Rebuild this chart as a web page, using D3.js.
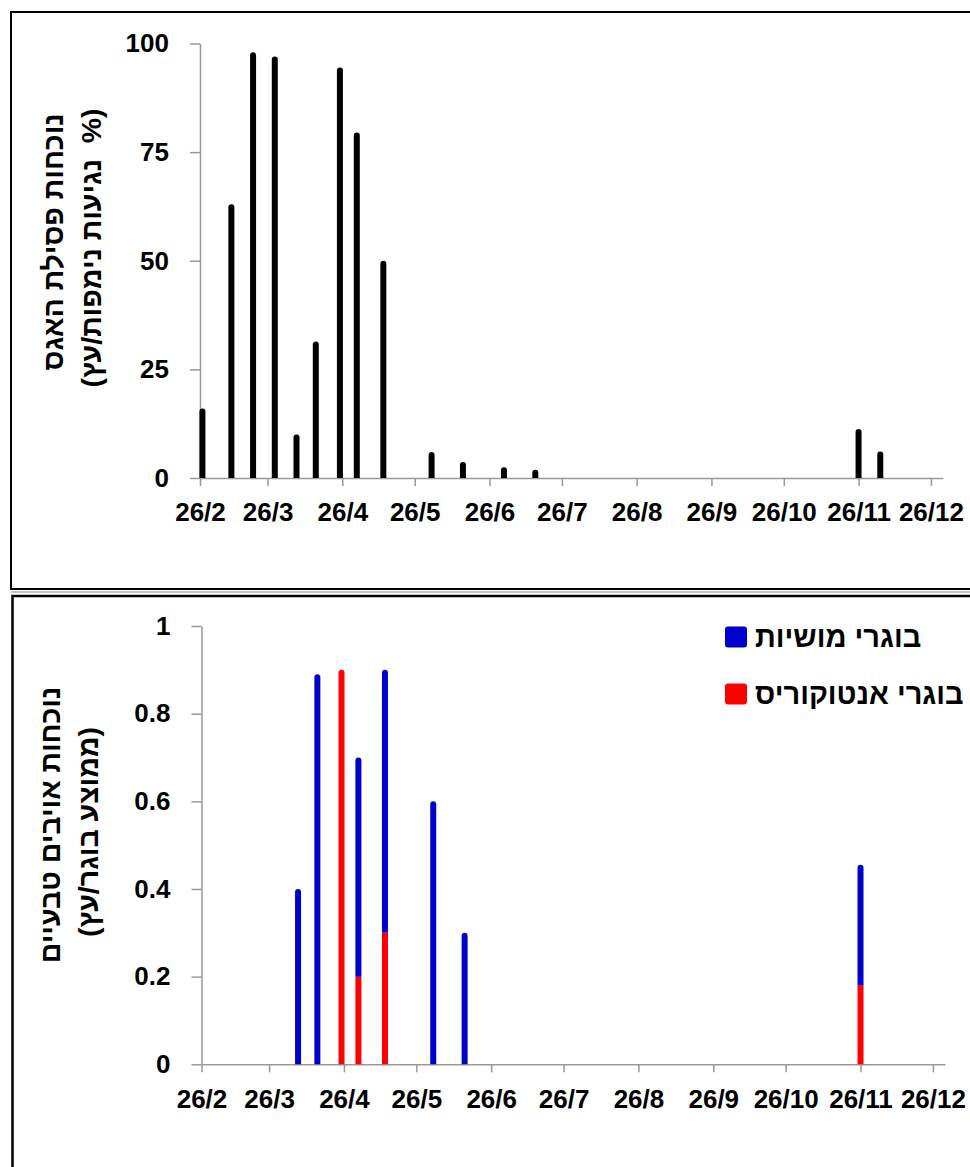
<!DOCTYPE html>
<html>
<head>
<meta charset="utf-8">
<script src="https://cdn.jsdelivr.net/npm/d3@7"></script>
<style>
  html, body { margin: 0; padding: 0; background: #fff; }
  svg { display: block; }
  text { font-family: "Liberation Sans", Arial, "DejaVu Sans", sans-serif; font-weight: bold; fill: #000; }
</style>
</head>
<body>
<svg id="chart" width="970" height="1167"></svg>
<script>
// ---------- data ----------
const monthTicks = ["2011-02-26","2011-03-26","2011-04-26","2011-05-26","2011-06-26","2011-07-26",
                    "2011-08-26","2011-09-26","2011-10-26","2011-11-26","2011-12-26"];
const axisStart = "2011-02-26";
const axisEnd = "2011-12-31";

// Top panel: pear psylla presence (% nymph infestation / tree)
const psyllaDates = ["2011-02-27","2011-03-11","2011-03-20","2011-03-29","2011-04-07","2011-04-15",
                     "2011-04-25","2011-05-02","2011-05-13","2011-06-02","2011-06-15","2011-07-02",
                     "2011-07-15","2011-11-26","2011-12-05"];
const psyllaValues = [16, 63, 98, 97, 10, 31.4, 94.5, 79.5, 50, 6, 3.7, 2.5, 1.9, 11.3, 6.1];
const psyllaTicks = [0, 25, 50, 75, 100];

// Bottom panel: natural enemies (mean adults / tree)
const enemyDates = ["2011-04-07","2011-04-15","2011-04-25","2011-05-02","2011-05-13","2011-06-02",
                    "2011-06-15","2011-11-26"];
const anthocorisValues = [0, 0, 0.9, 0.2, 0.3, 0, 0, 0.18];      // red, bottom of stack
const coccinellidValues = [0.4, 0.89, 0, 0.5, 0.6, 0.6, 0.3, 0.275]; // blue, on top
const enemyTicks = [0, 0.2, 0.4, 0.6, 0.8, 1];
const seriesNames = ["בוגרי מושיות", "בוגרי אנטוקוריס"];
const seriesColors = ["#0000cc", "#ff0000"];

const topTitle = ["נוכחות פסילת האגס", "(%  נגיעות נימפות/עץ)"];
const bottomTitle = ["נוכחות אויבים טבעיים", "(ממוצע בוגר/עץ)"];

// ---------- drawing ----------
const parse = d3.timeParse("%Y-%m-%d");
const fmt = d => `${d.getDate()}/${d.getMonth() + 1}`;
const svg = d3.select("#chart");
const axisGray = "#999";

function roundTopBar(x, y0, y1, w, rounded) {
  const p = d3.path();
  const r = rounded ? Math.min(w / 2, Math.max(0, (y0 - y1))) : 0;
  p.moveTo(x - w / 2, y0);
  p.lineTo(x - w / 2, y1 + r);
  if (r > 0) p.arc(x, y1 + r, w / 2, Math.PI, 0);
  else p.lineTo(x + w / 2, y1);
  p.lineTo(x + w / 2, y0);
  p.closePath();
  return p.toString();
}

function drawAxes(g, x, y, yTicks, yFmt) {
  const xAxis = d3.axisBottom(x).tickValues(monthTicks.map(parse)).tickFormat(fmt)
    .tickSizeInner(8).tickSizeOuter(0).tickPadding(17);
  const xg = g.append("g").attr("transform", `translate(0,${y.range()[0]})`).call(xAxis);
  xg.select(".domain").attr("stroke", axisGray).attr("stroke-width", 1.5);
  xg.selectAll(".tick line").attr("stroke", axisGray).attr("stroke-width", 1.5);
  xg.selectAll(".tick text").style("font-size", "26px").attr("fill", "#000");

  const yAxis = d3.axisLeft(y).tickValues(yTicks).tickFormat(yFmt)
    .tickSizeInner(10).tickSizeOuter(0).tickPadding(21);
  const yg = g.append("g").attr("transform", `translate(${x.range()[0]},0)`).call(yAxis);
  yg.select(".domain").attr("stroke", axisGray).attr("stroke-width", 1.5);
  yg.selectAll(".tick line").attr("stroke", axisGray).attr("stroke-width", 1.5);
  yg.selectAll(".tick text").style("font-size", "26px").attr("fill", "#000");
}

function drawTitle(lines, xs, cy, sizes) {
  lines.forEach((t, i) => {
    svg.append("text")
      .attr("transform", `translate(${xs[i]},${cy[i]}) rotate(-90)`)
      .attr("text-anchor", "middle")
      .attr("dominant-baseline", "central")
      .attr("direction", "rtl")
      .attr("xml:space", "preserve")
      .style("white-space", "pre")
      .style("font-size", sizes[i] + "px")
      .text(t);
  });
}

// panel frames
svg.append("rect").attr("x", 11).attr("y", 12).attr("width", 970).attr("height", 577)
  .attr("fill", "none").attr("stroke", "#000").attr("stroke-width", 2);
svg.append("rect").attr("x", 12.5).attr("y", 596).attr("width", 970).attr("height", 600)
  .attr("fill", "none").attr("stroke", "#000").attr("stroke-width", 2.5);
svg.append("line").attr("x1", 11).attr("x2", 970).attr("y1", 592).attr("y2", 592)
  .attr("stroke", "#888").attr("stroke-width", 1);

// ----- top chart -----
const x1 = d3.scaleTime().domain([parse(axisStart), parse(axisEnd)]).range([200, 943]);
const y1 = d3.scaleLinear().domain([0, 100]).range([478, 43.5]);
const gTop = svg.append("g");
drawAxes(gTop, x1, y1, psyllaTicks, d => d);

gTop.append("g").selectAll("path")
  .data(psyllaDates.map((d, i) => ({date: parse(d), v: psyllaValues[i]})))
  .join("path")
  .attr("fill", "#000")
  .attr("d", d => roundTopBar(x1(d.date), y1(0), y1(d.v), 6, true));

drawTitle(topTitle, [53, 91], [242, 248], [28.5, 28.5]);

// ----- bottom chart -----
const x2 = d3.scaleTime().domain([parse(axisStart), parse(axisEnd)]).range([201.5, 945]);
const y2 = d3.scaleLinear().domain([0, 1]).range([1064.3, 626]);
const gBot = svg.append("g");
drawAxes(gBot, x2, y2, enemyTicks, d => String(d));

const rows = enemyDates.map((d, i) => ({date: parse(d), red: anthocorisValues[i], blue: coccinellidValues[i]}));
const stack = d3.stack().keys(["red", "blue"])(rows);
const colorOf = {red: seriesColors[1], blue: seriesColors[0]};
stack.forEach((layer, li) => {
  gBot.append("g").selectAll("path")
    .data(layer.filter(s => s[1] > s[0]))
    .join("path")
    .attr("fill", colorOf[layer.key])
    .attr("d", s => {
      const isTop = li === stack.length - 1 || !(s.data.blue > 0);
      return roundTopBar(x2(s.data.date), y2(s[0]), y2(s[1]), 6, isTop);
    });
});

drawTitle(bottomTitle, [50, 88], [825, 832], [28.5, 28.5]);

// legend
const legend = svg.append("g");
seriesNames.forEach((name, i) => {
  const cy = 637 + i * 57;
  legend.append("rect").attr("x", 725).attr("y", cy - 10.5).attr("width", 22).attr("height", 21)
    .attr("rx", 3).attr("fill", seriesColors[i]);
  legend.append("text").attr("x", 755).attr("y", cy)
    .attr("direction", "rtl").attr("text-anchor", "end")
    .attr("dominant-baseline", "central")
    .style("font-size", "29px").text(name);
});
</script>
</body>
</html>
